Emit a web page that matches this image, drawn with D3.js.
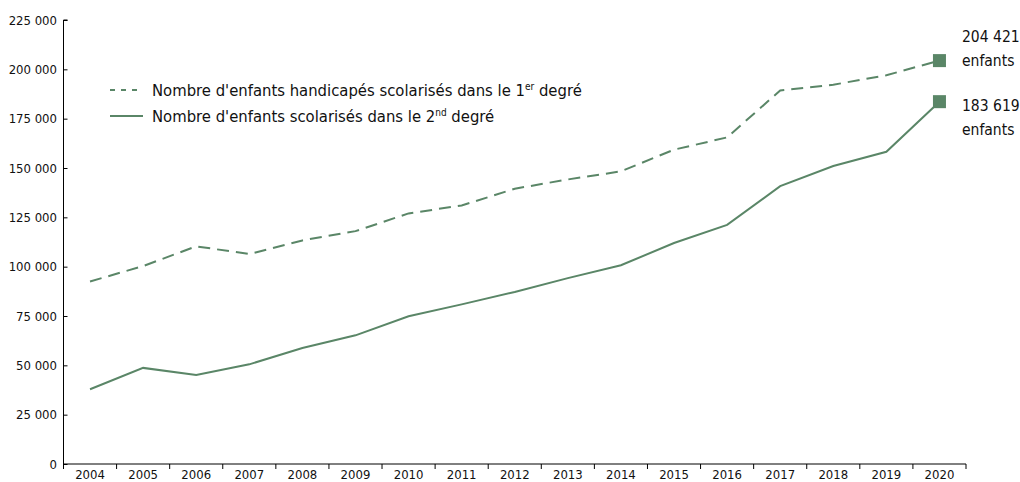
<!DOCTYPE html>
<html>
<head>
<meta charset="utf-8">
<script src="https://cdn.jsdelivr.net/npm/d3@7"></script>
<style>
  body { margin: 0; background: #fff; }
  svg text { font-family: "DejaVu Sans Condensed", "DejaVu Sans", sans-serif; fill: #111; }
</style>
</head>
<body>
<script>

// data
var years = ["2004","2005","2006","2007","2008","2009","2010","2011","2012",
             "2013","2014","2015","2016","2017","2018","2019","2020"];

var premierDegre = [92500, 100300, 110300, 106400, 113300, 118000, 127000, 131000, 139500,
                    144200, 148300, 159300, 165500, 189300, 192200, 197000, 204421];

var secondDegre = [37900, 48700, 45100, 50500, 58800, 65200, 74900, 80900, 87200,
                   94200, 100700, 112000, 121200, 140800, 151000, 158200, 183619];

var yTicks = [0, 25000, 50000, 75000, 100000, 125000, 150000, 175000, 200000, 225000];

var seriesNames = ["Nombre d'enfants handicapés scolarisés dans le 1", "Nombre d'enfants scolarisés dans le 2"];
var seriesSup = ["er", "nd"];
var seriesTail = [" degré", " degré"];
var endLabels = [["204 421", "enfants"], ["183 619", "enfants"]];

var width = 1020, height = 482;
var green = "#5a8667";

var svg = d3.select("body").append("svg")
    .attr("width", width)
    .attr("height", height);

var x = d3.scaleBand()
    .domain(years)
    .range([63.5, 966]);

var y = d3.scaleLinear()
    .domain([0, 225000])
    .range([464, 20]);

var fr = d3.formatLocale({decimal: ",", thousands: " ", grouping: [3], currency: ["", " €"]});
var fmt = fr.format(",d");

// y axis, ticks pointing inward
var yAxis = svg.append("g")
    .attr("transform", "translate(63.5,0)")
    .call(d3.axisRight(y).tickValues(yTicks).tickSize(4).tickFormat(""));
yAxis.select(".domain").attr("d", "M0," + y(0) + "V" + y(225000) + "H4").attr("stroke", "#000");
yAxis.selectAll("line").attr("stroke", "#000");

svg.append("g")
    .selectAll("text")
    .data(yTicks)
    .enter().append("text")
    .attr("x", 57)
    .attr("y", function(d){ return y(d); })
    .attr("dy", "0.36em")
    .attr("text-anchor", "end")
    .style("font-size", "13px")
    .text(function(d){ return fmt(d); });

// x axis
var xAxis = svg.append("g")
    .attr("transform", "translate(0," + y(0) + ")")
    .attr("font-family", null)
    .call(d3.axisBottom(x).tickSize(0).tickPadding(6));
xAxis.select(".domain").attr("d", "M" + x.range()[0] + ",0H" + x.range()[1]).attr("stroke", "#000");
xAxis.selectAll("text").style("font-size", "13px");

var bounds = years.map(function(d){ return x(d); }).concat([x.range()[1]]);
xAxis.selectAll(".bound")
    .data(bounds)
    .enter().append("line")
    .attr("class", "bound")
    .attr("x1", function(d){ return d; })
    .attr("x2", function(d){ return d; })
    .attr("y1", 0)
    .attr("y2", 5)
    .attr("stroke", "#000");

var line = d3.line()
    .x(function(d, i){ return x(years[i]) + x.bandwidth() / 2; })
    .y(function(d){ return y(d); });

svg.append("path")
    .datum(premierDegre)
    .attr("d", line)
    .attr("fill", "none")
    .attr("stroke", green)
    .attr("stroke-width", 2)
    .attr("stroke-dasharray", "12,7");

svg.append("path")
    .datum(secondDegre)
    .attr("d", line)
    .attr("fill", "none")
    .attr("stroke", green)
    .attr("stroke-width", 2);

// end markers
var last = years[years.length - 1];
var ends = [premierDegre[premierDegre.length - 1], secondDegre[secondDegre.length - 1]];
var labelShift = [-19, 9];

svg.selectAll(".marker")
    .data(ends)
    .enter().append("rect")
    .attr("class", "marker")
    .attr("x", x(last) + x.bandwidth() / 2 - 6.5)
    .attr("y", function(d){ return y(d) - 6.5; })
    .attr("width", 13)
    .attr("height", 13)
    .attr("fill", green);

svg.selectAll(".endlabel")
    .data(ends)
    .enter().append("text")
    .attr("class", "endlabel")
    .attr("y", function(d, i){ return y(d) + labelShift[i]; })
    .style("font-size", "15.5px")
    .each(function(d, i){
        var t = d3.select(this);
        t.append("tspan").attr("x", 962).text(endLabels[i][0]);
        t.append("tspan").attr("x", 962).attr("dy", 24).text(endLabels[i][1]);
    });

// legend
var legend = svg.append("g");
var legY = [90, 116];
legend.append("line")
    .attr("x1", 110).attr("x2", 142)
    .attr("y1", legY[0]).attr("y2", legY[0])
    .attr("stroke", green).attr("stroke-width", 2)
    .attr("stroke-dasharray", "5,6");
legend.append("line")
    .attr("x1", 110).attr("x2", 143)
    .attr("y1", legY[1]).attr("y2", legY[1])
    .attr("stroke", green).attr("stroke-width", 2);

legend.selectAll("text")
    .data(seriesNames)
    .enter().append("text")
    .attr("x", 152)
    .attr("y", function(d, i){ return legY[i] + 6; })
    .style("font-size", "16.5px")
    .each(function(d, i){
        var t = d3.select(this);
        t.append("tspan").text(d);
        t.append("tspan").attr("dy", -6).style("font-size", "10px").text(seriesSup[i]);
        t.append("tspan").attr("dy", 6).text(seriesTail[i]);
    });

</script>
</body>
</html>
